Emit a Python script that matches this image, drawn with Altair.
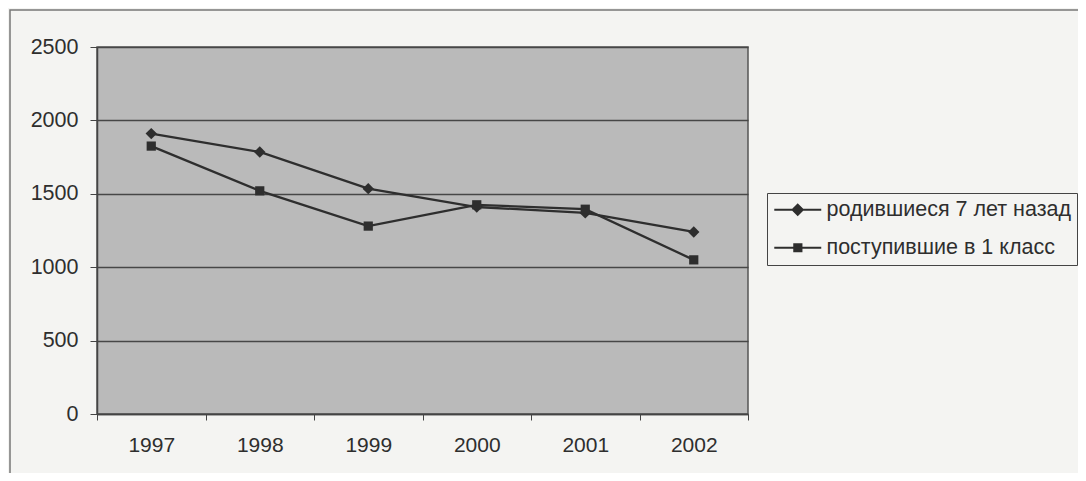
import altair as alt
import pandas as pd

years = ["1997", "1998", "1999", "2000", "2001", "2002"]
born = [1910, 1785, 1535, 1410, 1370, 1240]
enrolled = [1825, 1520, 1280, 1425, 1395, 1050]
series = ["родившиеся 7 лет назад", "поступившие в 1 класс"]
y_ticks = [0, 500, 1000, 1500, 2000, 2500]

df = pd.DataFrame({
    "year": years * 2,
    "value": born + enrolled,
    "series": [series[0]] * len(years) + [series[1]] * len(years),
})

FONT = "Liberation Sans"
INK = "#2e2e2e"

x = alt.X(
    "year:O",
    scale=alt.Scale(type="band", paddingInner=0, paddingOuter=0),
    bandPosition=0.5,
    axis=alt.Axis(
        title=None, labelAngle=0, tickBand="extent", grid=False,
        labelFont=FONT, labelFontSize=21, labelColor=INK, labelPadding=14,
        tickSize=6, tickColor="#444", domainColor="#444", domainWidth=1.5,
    ),
)
y = alt.Y(
    "value:Q",
    scale=alt.Scale(domain=[0, 2500], nice=False),
    axis=alt.Axis(
        title=None, values=y_ticks, format="d", grid=True, gridColor="#474747", gridWidth=1.5,
        labelFont=FONT, labelFontSize=21.5, labelColor=INK, labelPadding=12,
        tickSize=7, tickColor="#444", domainColor="#444", domainWidth=1.5,
    ),
)

base = alt.Chart(df)

lines = base.mark_line(color=INK, strokeWidth=2.3).encode(x=x, y=y, detail="series:N")

points = base.mark_point(filled=True, color=INK, opacity=1).encode(
    x=x, y=y,
    shape=alt.Shape("series:N", scale=alt.Scale(domain=series, range=["diamond", "square"]), legend=None),
    size=alt.Size("series:N", scale=alt.Scale(domain=series, range=[130, 85]), legend=None),
)

leg_diamond = "M-1.58,0H6.25M2.33,-0.85L3.18,0L2.33,0.85L1.48,0Z"
leg_square = "M-1.58,0H6.25M1.75,-0.6H2.95V0.6H1.75Z"

legend_layer = base.mark_point(
    filled=True, color=INK, fill=INK, stroke=INK, opacity=0, strokeWidth=2
).encode(
    x=x, y=y,
    shape=alt.Shape(
        "series:N",
        scale=alt.Scale(domain=series, range=[leg_diamond, leg_square]),
        legend=alt.Legend(
            title=None, orient="none", legendX=670, legendY=146,
            symbolSize=144, symbolOpacity=1, symbolStrokeWidth=2,
            labelFont=FONT, labelFontSize=21.5, labelColor=INK, labelOffset=32,
            padding=6, rowPadding=15, strokeColor="#444", fillColor="#f4f4f2",
            labelLimit=400,
        ),
    ),
)

frame = alt.Chart(pd.DataFrame({"a": [0]})).mark_rect(
    filled=False, stroke="#777", strokeWidth=1.5
).encode(
    x=alt.value(-87), x2=alt.value(1200), y=alt.value(-37), y2=alt.value(700)
)

chart = alt.layer(frame, lines, points, legend_layer).resolve_scale(
    shape="independent"
).properties(
    width=651, height=367,
    background="#f4f4f2",
    autosize=alt.AutoSizeParams(type="none"),
    padding={"left": 89, "top": 39, "right": 330, "bottom": 59},
).configure_view(
    fill="#bababa", stroke="#555", strokeWidth=1.5
)

chart.save("out.html", embed_options={"renderer": "svg", "actions": False})
